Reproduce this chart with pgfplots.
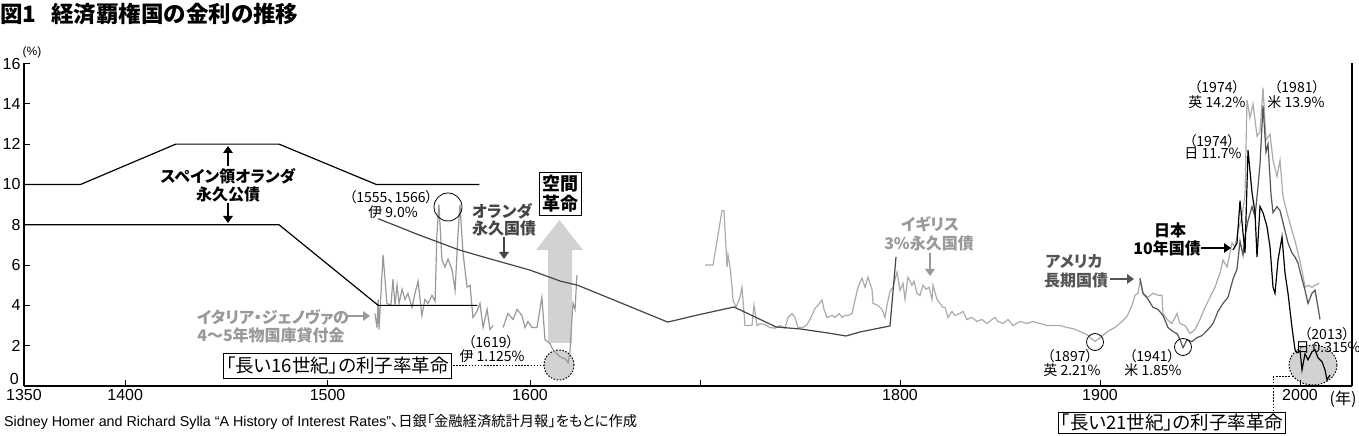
\documentclass[border=0pt]{standalone}
\usepackage{fontspec}
\usepackage{pgfplots}
\usepackage{pgfplotstable}
\pgfplotsset{compat=1.18}
\usetikzlibrary{arrows.meta}
\setmainfont{Liberation Sans}
\newfontfamily\jp{Noto Sans CJK JP}[RawFeature=+palt]
\definecolor{cIT}{HTML}{999999}
\definecolor{cUK}{HTML}{ABABAB}
\definecolor{cNL}{HTML}{444444}
\definecolor{cUS}{HTML}{555555}
\definecolor{cFill}{HTML}{D2D2D2}

\pgfplotstableread{
year rate
1350 10
1378 10
1425 12
1476 12
1524 10
1575 10
}\spainhi

\pgfplotstableread{
year rate
1350 8
1476 8
1525 4
1574 4
}\spainlo

\pgfplotstableread{
year rate
1525 8.3
1545 7.5
1565 6.75
1577 6.4
1600 5.75
1618 5.2
1628 5.0
1655 4.07
1681 3.17
1700 3.55
1717 3.92
1738 2.93
1750 2.83
1764 2.63
1773 2.48
1780 2.68
1795 2.98
1798 6.4
}\dutch

\pgfplotstableread{
year rate
1523.4 3.6
1524.4 2.9
1525 4.3
1525.4 2.8
1527.4 6.5
1529.3 4.1
1531.3 4.0
1532.3 5.3
1533.3 4.0
1534.3 5.0
1535.3 4.1
1536.8 4.8
1538.2 4.3
1539.7 4.6
1541.7 3.9
1543.2 4.6
1544.7 5.2
1546.6 3.5
1548.1 4.3
1549.6 4.1
1551.6 4.5
1553.1 4.2
1554 7.5
1555 9.0
1556.5 6.25
1558 5.9
1559.5 6.3
1561.5 5.75
1563 4.75
1564.4 7.5
1565.4 9.0
1566.9 6.6
1568.9 4.9
1570.4 5.0
1571.8 3.4
1573.8 3.7
1575.3 4.1
1576.8 2.9
1578.8 3.8
1580.2 2.8
1581.7 3.0
1584 nan
1586.7 2.9
1589.1 3.6
1591.6 3.3
1593.6 3.8
1596 3.5
1597.5 2.9
1599 3.2
1601.2 2.9
1604.1 2.9
1607 4.4
1608.8 2.3
1611.8 2.1
1613.5 1.8
1617.6 1.45
1620.6 1.35
1622.4 1.15
1623.5 1.7
1624.7 3.4
1625.3 4.1
1626.5 3.8
1627.6 5.5
}\italy

\pgfplotstableread{
year rate
1702.5 6.0
1706.5 6.0
1711 8.7
1712 8.7
1713.5 5.9
1714 6.5
1715 5.9
1716 4.9
1716.5 4.27
1718 3.9
1720 4.4
1721 4.9
1722.5 3.0
1726 3.0
1727 4.0
1728.5 3.0
1730 3.1
1732.5 3.05
1735 2.9
1737.5 2.87
1740 3.0
1742.5 2.87
1744 3.4
1746 3.6
1747.5 3.4
1749 2.9
1751.5 2.9
1753.5 3.05
1755 3.3
1757.5 3.85
1759 4.0
1761 4.27
1762 3.8
1763.5 3.4
1766 3.5
1767.5 3.4
1769.5 3.6
1771 3.4
1772.5 3.5
1774 3.5
1776 3.6
1777.5 4.27
1779 4.9
1781 5.35
1782.5 4.9
1784 5.4
1786 4.8
1786.5 4.1
1789 4.0
1791 3.8
1792.5 3.4
1793.5 4.0
1795 4.7
1796.5 4.9
1798.5 5.65
1800 4.75
1801.5 5.1
1802.5 4.3
1804 5.4
1806 5.0
1807 5.2
1808.5 4.6
1810 4.5
1811.5 5.0
1813 4.8
1814.5 4.9
1816 4.3
1816.5 5.0
1818.5 4.3
1820 4.1
1821.5 3.9
1822.5 3.9
1824 3.4
1826 3.7
1827.5 3.5
1830 3.6
1831.5 3.7
1833.5 3.3
1836 3.4
1838.5 3.2
1841 3.3
1843.5 3.1
1846 3.3
1847.5 3.4
1849 3.2
1851.5 3.1
1854 3.3
1856.5 3.0
1860 3.2
1863.5 3.1
1866.5 3.2
1870 3.1
1873.5 3.0
1876.5 3.0
1880 3.0
1883.5 2.9
1886.5 2.85
1890 2.7
1893.5 2.55
1896 2.33
1897.5 2.21
1900 2.4
1902.5 2.6
1905 2.78
1907.5 2.9
1911 3.2
1913.5 3.45
1916 4.0
1917.5 4.5
1919 4.6
1920 5.2
1921.5 4.6
1924 4.4
1926.5 4.6
1929 4.5
1931 4.5
1931.5 3.6
1933.5 3.3
1936 3.1
1938.5 3.6
1940 3.1
1942.5 3.0
1945 2.6
1947.5 2.8
1950 3.3
1952.5 3.9
1955 4.4
1957.5 4.9
1960 5.6
1961.5 6.25
1963.5 5.9
1966 7.1
1967.5 6.9
1969 7.7
1971 8.4
1972.5 9.5
1973.5 14.2
1975 13.3
1976.5 14.0
1978.5 12.4
1980 12.6
1981.5 14.8
1983 12.2
1985 12.5
1986.5 11.2
1988.5 10.4
1990 11.2
1991.5 9.4
1993.5 8.6
1996 7.7
1997.5 7.2
1999 6.6
2001 5.75
2002.5 4.9
2004 5.0
2006 4.9
2007.5 5.0
2009.5 5.1
}\uk

\pgfplotstableread{
year rate
1920 5.35
1921.5 4.6
1924 4.3
1926.5 3.9
1929 3.8
1931.5 3.5
1934 2.9
1936.5 2.7
1938.5 2.6
1940 2.3
1941.5 1.9
1943.5 2.3
1946 2.2
1948.5 2.4
1951 2.5
1954 2.8
1956.5 3.1
1959 3.7
1961.5 4.1
1964 4.4
1966.5 5.3
1968.5 5.8
1970 7.2
1971.5 6.5
1972.5 7.4
1974 8.2
1976 8.9
1977.5 8.4
1979 9.9
1980 11.0
1981.5 13.9
1983 11.6
1984 12.0
1985.5 9.5
1986.5 8.6
1988.5 8.9
1990 8.7
1992 7.9
1994 7.1
1996 6.6
1997.5 6.4
1999 6.1
2001 5.3
2002.5 4.75
2004 4.1
2006 4.6
2007.5 4.75
2008.5 4.2
2010 3.3
}\us

\pgfplotstableread{
year rate
1966.5 6.75
1968.5 7.1
1970 9.2
1971.5 7.6
1972.5 6.6
1974 11.7
1976 9.6
1977.5 8.6
1978.5 6.4
1980 8.9
1981.5 8.6
1983.5 7.9
1985 6.9
1986.5 4.9
1987.5 4.6
1989 6.25
1991 7.4
1992.5 5.6
1994 4.6
1996 2.9
1997.5 1.8
1998.5 1.65
2000 1.75
2001 0.8
2002.5 1.6
2004 1.3
2006 1.7
2007.5 1.8
2009 1.4
2011 1.2
2012.5 0.8
2013.5 0.3
2015 0.55
}\japan

\tikzset{
  arr/.style={line width=2.6pt, -{Triangle[length=7pt,width=9.5pt]}},
  lab/.style={font=\jp\bfseries\fontsize{16}{16}\selectfont, inner sep=0pt},
  num/.style={font=\jp\fontsize{14}{14}\selectfont, inner sep=0pt},
  dotl/.style={line width=1pt, dash pattern=on 1.5pt off 1.6pt},
}

\begin{document}
\begin{tikzpicture}[x=1pt,y=1pt]
\useasboundingbox (-24,-50) rectangle (1335,386);
% background annotations (pixel coordinates: (px,-py))
\begin{scope}[shift={(-24,386)}]
  \fill[cFill] (548,-343) -- (548,-250) -- (536,-250) -- (559.5,-220) -- (583,-250) -- (572,-250) -- (572,-343) -- cycle;
  \filldraw[fill=cFill, draw=black, dotl] (559,-365) circle (15);
  \filldraw[fill=cFill, draw=black, dotl] (1313,-365) ellipse (24 and 20);
  \draw[dotl] (453,-366) -- (544,-366);
  \draw[dotl] (1293,-377) -- (1273,-377) -- (1273,-412);
\end{scope}

\begin{axis}[
  at={(0,0)}, anchor=south west, scale only axis,
  width=1328pt, height=322.5pt,
  xmin=0, xmax=1328, ymin=0, ymax=16,
  axis x line*=bottom, axis y line*=left,
  axis line style={-, line width=1.1pt, black},
  xtick={0,101.2,303.6,506,676,876,1076,1276},
  xticklabels={1350,1400,1500,1600,,1800,1900,2000},
  ytick={0,2,...,16},
  yticklabels={{},2,4,6,8,10,12,14,16},
  tick align=inside,
  major tick length=6pt,
  tick style={black, line width=1pt},
  ticklabel style={font=\fontsize{16}{16}\selectfont},
  /pgf/number format/assume math mode=true,
  unbounded coords=jump,
  clip=false,
  declare function={tx(\t)=(\t<1600) ? 2.024*(\t-1350) : ((\t<1700) ? 506+1.7*(\t-1600) : 676+2*(\t-1700));},
]
\draw[line width=1.1pt] (rel axis cs:1,0) -- (rel axis cs:1,1);
\addplot[cUK, line width=1.2pt] table[x expr={tx(\thisrow{year})}, y=rate] {\uk};
\addplot[cUS, line width=1.2pt] table[x expr={tx(\thisrow{year})}, y=rate] {\us};
\addplot[black, line width=1.2pt] table[x expr={tx(\thisrow{year})}, y=rate] {\japan};
\addplot[cIT, line width=1.2pt] table[x expr={tx(\thisrow{year})}, y=rate] {\italy};
\addplot[cNL, line width=1.2pt] table[x expr={tx(\thisrow{year})}, y=rate] {\dutch};
\addplot[black, line width=1.2pt] table[x expr={tx(\thisrow{year})}, y=rate] {\spainhi};
\addplot[black, line width=1.2pt] table[x expr={tx(\thisrow{year})}, y=rate] {\spainlo};
\end{axis}

\begin{scope}[shift={(-24,386)}]
  % y label 0 (raised above the 1350 label)
  \node[anchor=east, inner sep=0pt, font=\fontsize{16}{16}\selectfont] at (19,-379) {0};
  % title
  \node[anchor=west, inner sep=0pt, font=\jp\bfseries\fontsize{22.5}{22.5}\selectfont] at (0,-14) {図1\hspace{15pt}経済覇権国の金利の推移};
  \node[inner sep=0pt, font=\fontsize{12}{12}\selectfont] at (32,-52) {(\%)};
  \node[inner sep=0pt, font=\jp\fontsize{16}{16}\selectfont] at (1343,-399) {(年)};
  % source
  \node[anchor=west, inner sep=0pt, font=\fontsize{14.3}{14.3}\selectfont] at (4,-422) {Sidney Homer and Richard Sylla “A History of Interest Rates”{\jp\fontsize{14.3}{14.3}\selectfont 、日銀「金融経済統計月報」をもとに作成}};
  % Spanish Netherlands
  \node[lab] at (228,-176) {スペイン領オランダ};
  \node[lab] at (228,-194) {永久公債};
  \draw[arr] (228,-166) -- (228,-146);
  \draw[arr] (228,-203) -- (228,-223);
  % Italy
  \node[num] at (391,-197) {（1555、1566）};
  \node[num] at (393,-212) {伊 9.0\%};
  \draw[line width=0.8pt] (448,-207) circle (14);
  \node[lab, text=cIT] at (273,-317) {イタリア・ジェノヴァの};
  \node[lab, text=cIT] at (271,-335) {4〜5年物国庫貸付金};
  \draw[arr, cIT] (347,-316) -- (370,-316);
  \node[num] at (491,-342) {（1619）};
  \node[num] at (492,-356) {伊 1.125\%};
  \node[draw=black, fill=white, line width=0.7pt, inner sep=2.5pt, minimum height=25pt, font=\jp\fontsize{18.5}{18.5}\selectfont] at (337.5,-365.5) {「長い16世紀」の利子率革命};
  % Dutch
  \node[lab, text=cNL] at (502,-211) {オランダ};
  \node[lab, text=cNL] at (504,-228) {永久国債};
  \draw[arr, cNL] (504,-237) -- (504,-259);
  \node[draw=black, fill=white, line width=0.7pt, inner sep=3pt, align=center, font=\jp\bfseries\fontsize{18}{20}\selectfont] at (560,-193.5) {空間\\革命};
  % UK
  \node[lab, text=cIT] at (930,-224) {イギリス};
  \node[lab, text=cIT] at (929,-243) {3\%永久国債};
  \draw[arr, cIT] (930,-253) -- (930,-276);
  \node[num] at (1070,-356) {（1897）};
  \node[num] at (1072,-370) {英 2.21\%};
  \draw[line width=0.8pt] (1095,-342) circle (8.5);
  % US
  \node[lab, text=cUS] at (1074,-262) {アメリカ};
  \node[lab, text=cUS] at (1076,-280) {長期国債};
  \draw[arr, cUS] (1110,-279) -- (1134,-279);
  \node[num] at (1152,-356) {（1941）};
  \node[num] at (1153,-370) {米 1.85\%};
  \draw[line width=0.8pt] (1183,-347) circle (8.5);
  % Japan
  \node[lab] at (1170,-230) {日本};
  \node[lab] at (1167,-248) {10年国債};
  \draw[arr] (1201,-248) -- (1231,-248);
  % peaks
  \node[num] at (1217,-87) {（1974）};
  \node[num] at (1217,-102) {英 14.2\%};
  \node[num] at (1297,-87) {（1981）};
  \node[num] at (1296,-102) {米 13.9\%};
  \node[num] at (1212,-141) {（1974）};
  \node[num] at (1213,-154) {日 11.7\%};
  \node[num] at (1327,-334) {（2013）};
  \node[num] at (1328,-348) {日 0.315\%};
  \node[draw=black, fill=white, line width=0.7pt, inner sep=2pt, minimum height=21pt, font=\jp\fontsize{18.5}{18.5}\selectfont] at (1172,-422.5) {「長い21世紀」の利子率革命};
\end{scope}
\end{tikzpicture}
\end{document}
